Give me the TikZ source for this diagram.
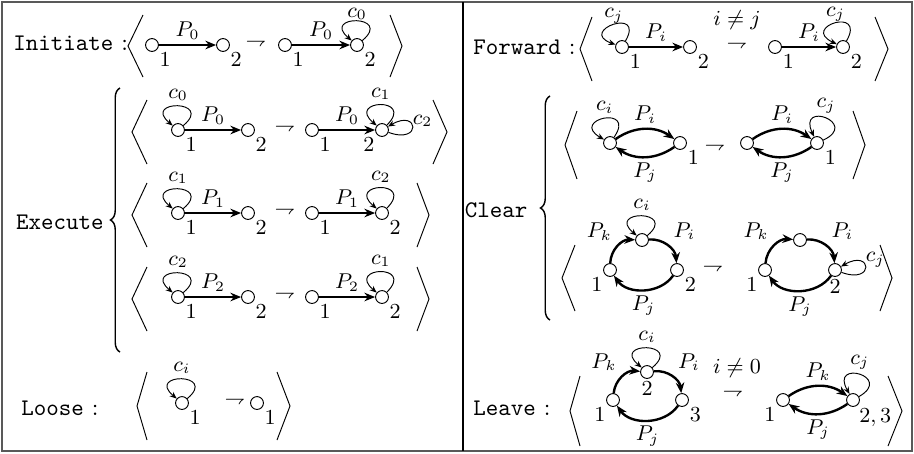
\documentclass[tikz,border=0pt]{standalone}
\usetikzlibrary{decorations.pathreplacing,arrows.meta}
\begin{document}
\begin{tikzpicture}[x=0.42pt, y=0.42pt,
    spot/.style={circle, draw, thin, inner sep=0pt, minimum size=5.4pt},
    lbl/.style={font=\small, inner sep=1pt},
    elbl/.style={font=\small, inner sep=2pt},
    arrow/.style={-{Stealth[length=4.5pt, width=3.6pt]}, line width=1pt},
    selfloop/.style={-{Stealth[length=3pt, width=2.4pt]}, thin, distance=17pt},
    sideloop/.style={selfloop, distance=15pt},
    bra/.style={thin},
    lead/.style={anchor=west},
    bigbrace/.style={decorate, decoration={brace, amplitude=4pt}, semithick}
]
\useasboundingbox (0,0) rectangle (914,-453);

% Frame
\draw[black!65, line width=0.9pt] (2,-2) rectangle (912,-451);
\draw[black, line width=0.5pt] (463,-2) -- (463,-451);

% Initiate
\node[lead] (initname) at (5,-43) {\texttt{Initiate} :};
\draw[bra] (143,-15) -- (128,-46) -- (143,-77);
\node[spot, label={[lbl]south east:$1$}] (initA1) at (152,-45) {};
\node[spot, label={[lbl]south east:$2$}] (initA2) at (223,-45) {};
\draw[arrow] (initA1) -- node[elbl, above] {$P_0$} (initA2);
\node[font=\footnotesize] (initto) at (256,-43) {$\rightharpoondown$};
\node[spot, label={[lbl]south east:$1$}] (initB1) at (285,-45) {};
\node[spot, label={[lbl]south east:$2$}] (initB2) at (357,-45) {};
\draw[arrow] (initB1) -- node[elbl, above] {$P_0$} (initB2);
\draw[selfloop] (initB2) to[out=40, in=140] node[elbl, above, inner sep=0.5pt] {$c_0$} (initB2);
\draw[bra] (390,-15) -- (402,-46) -- (390,-77);

% Execute
\node (execname) at (60,-222) {\texttt{Execute}};
\draw[bigbrace] (120,-352) -- (120,-88);

% Execute, first rule
\draw[bra] (147,-100) -- (132,-132) -- (147,-164);
\node[spot, label={[lbl]south east:$1$}] (exaA1) at (178,-130) {};
\node[spot, label={[lbl]south east:$2$}] (exaA2) at (248,-130) {};
\draw[arrow] (exaA1) -- node[elbl, above] {$P_0$} (exaA2);
\draw[selfloop] (exaA1) to[out=40, in=140] node[elbl, above] {$c_0$} (exaA1);
\node[font=\footnotesize] (exato) at (285,-128) {$\rightharpoondown$};
\node[spot, label={[lbl]south east:$1$}] (exaB1) at (312,-130) {};
\node[spot, label={[lbl]south west:$2$}] (exaB2) at (382,-130) {};
\draw[arrow] (exaB1) -- node[elbl, above] {$P_0$} (exaB2);
\draw[selfloop] (exaB2) to[out=45, in=140] node[elbl, above] {$c_1$} (exaB2);
\draw[sideloop] (exaB2) to[out=-20, in=30] node[elbl, above right, inner sep=0pt] {$c_2$} (exaB2);
\draw[bra] (433,-100) -- (447,-132) -- (433,-164);

% Execute, second rule
\draw[bra] (147,-183) -- (132,-215) -- (147,-247);
\node[spot, label={[lbl]south east:$1$}] (exbA1) at (178,-213) {};
\node[spot, label={[lbl]south east:$2$}] (exbA2) at (248,-213) {};
\draw[arrow] (exbA1) -- node[elbl, above] {$P_1$} (exbA2);
\draw[selfloop] (exbA1) to[out=40, in=140] node[elbl, above] {$c_1$} (exbA1);
\node[font=\footnotesize] (exbto) at (285,-211) {$\rightharpoondown$};
\node[spot, label={[lbl]south east:$1$}] (exbB1) at (312,-213) {};
\node[spot, label={[lbl]south east:$2$}] (exbB2) at (382,-213) {};
\draw[arrow] (exbB1) -- node[elbl, above] {$P_1$} (exbB2);
\draw[selfloop] (exbB2) to[out=45, in=140] node[elbl, above] {$c_2$} (exbB2);
\draw[bra] (417,-183) -- (429,-215) -- (417,-247);

% Execute, third rule
\draw[bra] (147,-267) -- (132,-299) -- (147,-331);
\node[spot, label={[lbl]south east:$1$}] (excA1) at (178,-297) {};
\node[spot, label={[lbl]south east:$2$}] (excA2) at (248,-297) {};
\draw[arrow] (excA1) -- node[elbl, above] {$P_2$} (excA2);
\draw[selfloop] (excA1) to[out=40, in=140] node[elbl, above] {$c_2$} (excA1);
\node[font=\footnotesize] (excto) at (285,-295) {$\rightharpoondown$};
\node[spot, label={[lbl]south east:$1$}] (excB1) at (312,-297) {};
\node[spot, label={[lbl]south east:$2$}] (excB2) at (382,-297) {};
\draw[arrow] (excB1) -- node[elbl, above] {$P_2$} (excB2);
\draw[selfloop] (excB2) to[out=45, in=140] node[elbl, above] {$c_1$} (excB2);
\draw[bra] (417,-267) -- (429,-299) -- (417,-331);

% Loose
\node[lead] (loosename) at (13,-408) {\texttt{Loose} :};
\draw[bra] (147,-372) -- (137,-406) -- (147,-440);
\node[spot, label={[lbl]south east:$1$}] (looseA) at (182,-403) {};
\draw[selfloop] (looseA) to[out=40, in=140] node[elbl, above] {$c_i$} (looseA);
\node[font=\footnotesize] (looseto) at (235,-401) {$\rightharpoondown$};
\node[spot, label={[lbl]south east:$1$}] (looseB) at (257,-403) {};
\draw[bra] (277,-372) -- (290,-406) -- (277,-440);

% Forward
\node[lead] (fwdname) at (465,-47) {\texttt{Forward} :};
\draw[bra] (592,-17) -- (580,-49) -- (592,-81);
\node[spot, label={[lbl]south east:$1$}] (fwdA1) at (622,-47) {};
\node[spot, label={[lbl]south east:$2$}] (fwdA2) at (690,-47) {};
\draw[arrow] (fwdA1) -- node[elbl, above] {$P_i$} (fwdA2);
\draw[selfloop] (fwdA1) to[out=60, in=160] node[elbl, above, inner sep=0.5pt] {$c_j$} (fwdA1);
\node[font=\footnotesize] (fwdto) at (737,-45) {$\rightharpoondown$};
\node[font=\small] (fwdcond) at (737,-20) {$i\neq j$};
\node[spot, label={[lbl]south east:$1$}] (fwdB1) at (775,-47) {};
\node[spot, label={[lbl]south east:$2$}] (fwdB2) at (843,-47) {};
\draw[arrow] (fwdB1) -- node[elbl, above] {$P_i$} (fwdB2);
\draw[selfloop] (fwdB2) to[out=60, in=155] node[elbl, above, inner sep=0.5pt] {$c_j$} (fwdB2);
\draw[bra] (875,-17) -- (888,-49) -- (875,-81);

% Clear
\node (clname) at (496,-210) {\texttt{Clear}};
\draw[bigbrace] (550,-320) -- (550,-96);

% Clear, first rule
\draw[bra] (577,-111) -- (565,-145) -- (577,-179);
\node[spot] (claA1) at (610,-143) {};
\node[spot, label={[lbl]south east:$1$}] (claA2) at (680,-143) {};
\draw[arrow] (claA1) to[bend left=35] node[elbl, above] {$P_i$} (claA2);
\draw[arrow] (claA2) to[bend left=35] node[elbl, below] {$P_j$} (claA1);
\draw[selfloop] (claA1) to[out=55, in=150] node[elbl, above] {$c_i$} (claA1);
\node[font=\footnotesize] (clato) at (715,-147) {$\rightharpoondown$};
\node[spot] (claB1) at (747,-143) {};
\node[spot, label={[lbl]south east:$1$}] (claB2) at (817,-143) {};
\draw[arrow] (claB1) to[bend left=35] node[elbl, above] {$P_i$} (claB2);
\draw[arrow] (claB2) to[bend left=35] node[elbl, below] {$P_j$} (claB1);
\draw[selfloop] (claB2) to[out=25, in=115] node[elbl, above] {$c_j$} (claB2);
\draw[bra] (853,-111) -- (865,-145) -- (853,-179);

% Clear, second rule
\draw[bra] (575,-245) -- (562,-278) -- (575,-311);
\node[spot, label={[lbl]south west:$1$}] (clbA1) at (610,-270) {};
\node[spot] (clbA2) at (642,-240) {};
\node[spot, label={[lbl]south east:$2$}] (clbA3) at (677,-270) {};
\draw[arrow] (clbA1) to[bend left=45] node[elbl, above left] {$P_k$} (clbA2);
\draw[arrow] (clbA2) to[bend left=45] node[elbl, above right] {$P_i$} (clbA3);
\draw[arrow] (clbA3) to[bend left=55] node[elbl, below] {$P_j$} (clbA1);
\draw[selfloop] (clbA2) to[out=40, in=140] node[elbl, above] {$c_i$} (clbA2);
\node[font=\footnotesize] (clbto) at (713,-268) {$\rightharpoondown$};
\node[spot, label={[lbl]south west:$1$}] (clbB1) at (765,-270) {};
\node[spot] (clbB2) at (800,-240) {};
\node[spot, label={[lbl]below:$2$}] (clbB3) at (835,-270) {};
\draw[arrow] (clbB1) to[bend left=45] node[elbl, above left] {$P_k$} (clbB2);
\draw[arrow] (clbB2) to[bend left=45] node[elbl, above right] {$P_i$} (clbB3);
\draw[arrow] (clbB3) to[bend left=55] node[elbl, below] {$P_j$} (clbB1);
\draw[sideloop] (clbB3) to[out=-20, in=30] node[elbl, above right, inner sep=0pt] {$c_j$} (clbB3);
\draw[bra] (880,-245) -- (892,-278) -- (880,-311);

% Leave
\node[lead] (leavename) at (465,-408) {\texttt{Leave} :};
\draw[bra] (580,-376) -- (570,-411) -- (580,-446);
\node[spot, label={[lbl]south west:$1$}] (leaveA1) at (613,-400) {};
\node[spot, label={[lbl]below:$2$}] (leaveA2) at (647,-372) {};
\node[spot, label={[lbl]south east:$3$}] (leaveA3) at (682,-400) {};
\draw[arrow] (leaveA1) to[bend left=45] node[elbl, above left] {$P_k$} (leaveA2);
\draw[arrow] (leaveA2) to[bend left=45] node[elbl, above right] {$P_i$} (leaveA3);
\draw[arrow] (leaveA3) to[bend left=55] node[elbl, below] {$P_j$} (leaveA1);
\draw[selfloop] (leaveA2) to[out=40, in=140] node[elbl, above] {$c_i$} (leaveA2);
\node[font=\small] (leavecond) at (737,-368) {$i\neq 0$};
\node[font=\footnotesize] (leaveto) at (733,-393) {$\rightharpoondown$};
\node[spot, label={[lbl]south west:$1$}] (leaveB1) at (783,-400) {};
\node[spot, label={[lbl]-60:$2,3$}] (leaveB2) at (853,-400) {};
\draw[arrow] (leaveB1) to[bend left=35] node[elbl, above] {$P_k$} (leaveB2);
\draw[arrow] (leaveB2) to[bend left=35] node[elbl, below] {$P_j$} (leaveB1);
\draw[selfloop] (leaveB2) to[out=30, in=120] node[elbl, above] {$c_j$} (leaveB2);
\draw[bra] (888,-376) -- (902,-411) -- (888,-446);

\end{tikzpicture}
\end{document}
